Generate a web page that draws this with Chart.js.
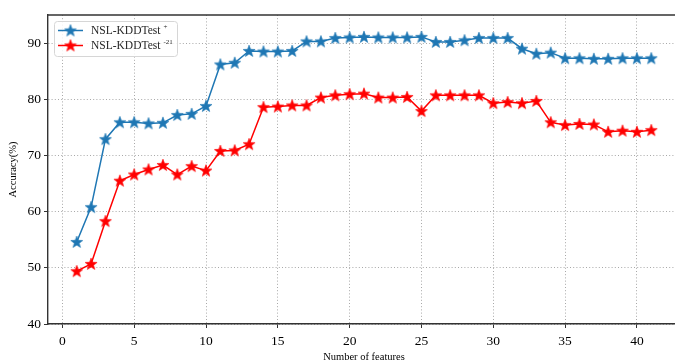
<!DOCTYPE html>
<html>
<head>
<meta charset="utf-8">
<script src="https://cdn.jsdelivr.net/npm/chart.js@4/dist/chart.umd.min.js"></script>
<style>
  html, body { margin: 0; padding: 0; overflow: hidden; background: #fff; }
  #wrap { width: 700px; height: 363px; position: relative; }
</style>
</head>
<body>
<div id="wrap"><canvas id="c" width="700" height="363"></canvas></div>
<script>
// Accuracy (%) against the number of selected features
const featureCounts = [1,2,3,4,5,6,7,8,9,10,11,12,13,14,15,16,17,18,19,20,21,
                       22,23,24,25,26,27,28,29,30,31,32,33,34,35,36,37,38,39,40,41];
const accTestPlus = [54.6, 60.8, 72.9, 75.9, 75.9, 75.7, 75.8, 77.2, 77.4, 78.8,
                     86.2, 86.5, 88.6, 88.5, 88.5, 88.6, 90.3, 90.3, 90.9, 91.0,
                     91.1, 91.0, 91.0, 91.0, 91.1, 90.2, 90.2, 90.5, 90.9, 90.9,
                     90.9, 89.0, 88.1, 88.3, 87.3, 87.3, 87.2, 87.2, 87.3, 87.3, 87.3];
const accTest21 = [49.4, 50.7, 58.3, 65.5, 66.6, 67.5, 68.3, 66.6, 68.1, 67.3,
                   70.8, 70.9, 72.0, 78.6, 78.7, 78.9, 78.9, 80.3, 80.7, 80.9,
                   81.0, 80.3, 80.3, 80.4, 77.9, 80.7, 80.7, 80.7, 80.7, 79.3,
                   79.5, 79.3, 79.7, 75.9, 75.4, 75.6, 75.5, 74.2, 74.4, 74.2, 74.5];
const seriesNames = ['NSL-KDDTest', 'NSL-KDDTest'];
const seriesSup = ['+', '-21'];
const xTickValues = [0, 5, 10, 15, 20, 25, 30, 35, 40];
const yTickValues = [40, 50, 60, 70, 80, 90];

const BLUE = '#1f77b4';
const RED = '#ff0000';
const SERIF = '"Liberation Serif", "DejaVu Serif", serif';
const SPINE = '#333333';

// filled five-pointed star marker
function starMarker(color) {
  const s = 14, c = document.createElement('canvas');
  c.width = s; c.height = s;
  const g = c.getContext('2d');
  const R = 6.3, r = 2.6, cx = s / 2, cy = s / 2 + 0.4;
  g.beginPath();
  for (let i = 0; i < 10; i++) {
    const rad = i % 2 === 0 ? R : r;
    const a = -Math.PI / 2 + i * Math.PI / 5;
    const px = cx + rad * Math.cos(a), py = cy + rad * Math.sin(a);
    i === 0 ? g.moveTo(px, py) : g.lineTo(px, py);
  }
  g.closePath();
  g.fillStyle = color;
  g.fill();
  g.lineWidth = 0.6;
  g.strokeStyle = color;
  g.stroke();
  return c;
}
const markers = [starMarker(BLUE), starMarker(RED)];

const toPoints = ys => featureCounts.map((x, i) => ({ x: x, y: ys[i] }));

// legend box, frame and axis titles
const decor = {
  id: 'decor',
  afterDatasetsDraw(chart) {
    const ctx = chart.ctx, a = chart.chartArea;
    ctx.save();
    // top and right spines
    ctx.strokeStyle = SPINE;
    ctx.lineWidth = 1.4;
    ctx.beginPath();
    ctx.moveTo(a.left, a.top); ctx.lineTo(a.right, a.top); ctx.lineTo(a.right, a.bottom);
    ctx.stroke();

    // legend
    const bx = 54, by = 21, bw = 123, bh = 35;
    ctx.beginPath();
    if (ctx.roundRect) ctx.roundRect(bx + 0.5, by + 0.5, bw, bh, 3); else ctx.rect(bx + 0.5, by + 0.5, bw, bh);
    ctx.fillStyle = 'rgba(255,255,255,0.85)';
    ctx.fill();
    ctx.strokeStyle = '#d6d6d6';
    ctx.lineWidth = 1;
    ctx.stroke();
    chart.data.datasets.forEach((ds, i) => {
      const y = 30.5 + i * 15;
      ctx.strokeStyle = ds.borderColor;
      ctx.lineWidth = 1.5;
      ctx.beginPath(); ctx.moveTo(58, y); ctx.lineTo(83, y); ctx.stroke();
      ctx.drawImage(markers[i], 70.5 - 7, y - 7);
      ctx.fillStyle = '#262626';
      ctx.textBaseline = 'middle';
      ctx.textAlign = 'left';
      ctx.font = '11.5px ' + SERIF;
      ctx.fillText(seriesNames[i], 91, y + 0.5);
      const w = ctx.measureText(seriesNames[i]).width;
      ctx.font = '7px ' + SERIF;
      ctx.fillText(seriesSup[i], 91 + w + 3, y - 3);
    });

    // axis titles
    ctx.fillStyle = '#000';
    ctx.font = '10.5px ' + SERIF;
    ctx.textAlign = 'center';
    ctx.textBaseline = 'middle';
    ctx.fillText('Number of features', (a.left + a.right) / 2, 357);
    ctx.translate(13, (a.top + a.bottom) / 2);
    ctx.rotate(-Math.PI / 2);
    ctx.fillText('Accuracy(%)', 0, 0);
    ctx.restore();
  }
};

new Chart(document.getElementById('c'), {
  type: 'line',
  data: {
    datasets: [
      { label: seriesNames[0] + ' ' + seriesSup[0], data: toPoints(accTestPlus),
        borderColor: BLUE, backgroundColor: BLUE, borderWidth: 1.5,
        pointStyle: markers[0], pointRadius: 6, tension: 0 },
      { label: seriesNames[1] + ' ' + seriesSup[1], data: toPoints(accTest21),
        borderColor: RED, backgroundColor: RED, borderWidth: 1.5,
        pointStyle: markers[1], pointRadius: 6, tension: 0 }
    ]
  },
  options: {
    responsive: false,
    animation: false,
    layout: { padding: { top: 15, right: 20, left: 0, bottom: 0 } },
    plugins: { legend: { display: false }, tooltip: { enabled: false } },
    scales: {
      x: {
        type: 'linear', min: -1, max: 43,
        afterBuildTicks: s => { s.ticks = xTickValues.map(v => ({ value: v })); },
        afterFit: s => { s.height = 39; },
        grid: { color: '#a8a8a8', lineWidth: 1, tickColor: SPINE, tickLength: 4, tickWidth: 1 },
        border: { color: SPINE, width: 1.4, dash: [1, 2.2] },
        ticks: { color: '#000', font: { family: SERIF, size: 13.5 }, padding: 5, maxRotation: 0 }
      },
      y: {
        min: 40, max: 95,
        afterBuildTicks: s => { s.ticks = yTickValues.map(v => ({ value: v })); },
        afterFit: s => { s.width = 48; },
        grid: { color: '#a8a8a8', lineWidth: 1, tickColor: SPINE, tickLength: 4, tickWidth: 1 },
        border: { color: SPINE, width: 1.4, dash: [1, 2.2] },
        ticks: { color: '#000', font: { family: SERIF, size: 13.5 }, padding: 3 }
      }
    }
  },
  plugins: [decor]
});
</script>
</body>
</html>
